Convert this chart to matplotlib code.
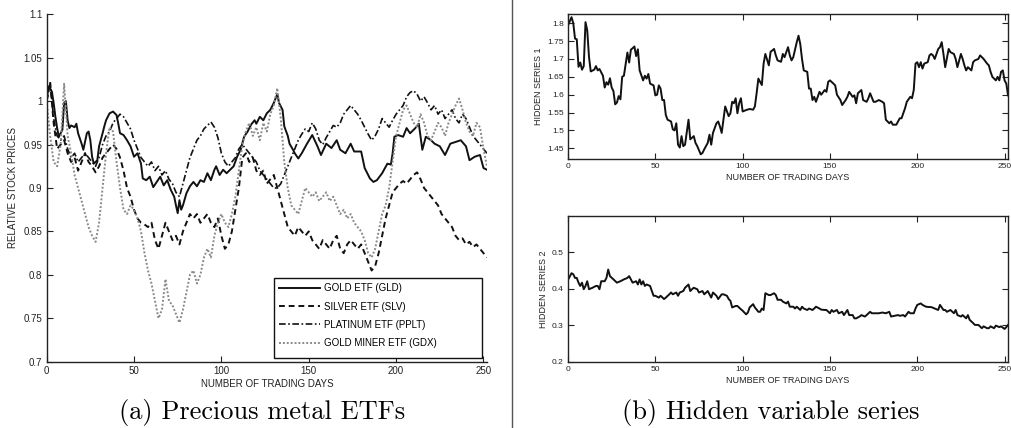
import numpy as np
import matplotlib
matplotlib.use("Agg")
import matplotlib.pyplot as plt
from matplotlib.lines import Line2D
from matplotlib.patches import Rectangle
from matplotlib.ticker import FuncFormatter

plt.rcParams['font.family'] = ['Liberation Sans', 'DejaVu Sans']

# ---------------- Precious metal ETFs (relative prices) ----------------
gld_days = [0, 1, 3, 4, 5, 6, 7, 9, 10, 11, 12, 13, 14, 16, 17, 18, 20, 21, 23, 24,
            25, 26, 27, 29, 30, 32, 33, 34, 36, 38, 40, 41, 42, 44, 46, 48, 50, 52, 54, 55,
            57, 59, 61, 63, 65, 67, 69, 71, 73, 74, 75, 76, 77, 78, 80, 82, 84, 86, 88, 90,
            92, 94, 96, 97, 99, 101, 103, 105, 107, 109, 111, 113, 115, 117, 119, 120, 122, 124, 126, 128,
            130, 132, 133, 135, 136, 138, 139, 141, 142, 144, 146, 149, 152, 155, 157, 160, 163, 166, 168, 171,
            174, 176, 180, 182, 185, 187, 189, 192, 195, 197, 198, 199, 201, 204, 206, 208, 211, 213, 215, 217,
            220, 222, 225, 228, 231, 234, 237, 240, 242, 245, 248, 250, 252]
gld_vals = [1.000, 1.017, 1.011, 0.998, 0.982, 0.969, 0.959, 0.967, 0.998, 1.000, 0.978, 0.969, 0.972, 0.970, 0.974, 0.963, 0.951, 0.944, 0.963, 0.965,
            0.955, 0.936, 0.928, 0.932, 0.948, 0.963, 0.971, 0.978, 0.986, 0.988, 0.984, 0.974, 0.963, 0.961, 0.955, 0.948, 0.936, 0.940, 0.928, 0.911,
            0.909, 0.913, 0.901, 0.907, 0.913, 0.903, 0.909, 0.898, 0.890, 0.880, 0.871, 0.886, 0.875, 0.880, 0.894, 0.902, 0.907, 0.902, 0.909, 0.907,
            0.917, 0.909, 0.921, 0.925, 0.915, 0.921, 0.917, 0.921, 0.925, 0.936, 0.944, 0.959, 0.965, 0.973, 0.978, 0.974, 0.982, 0.978, 0.986, 0.990,
            0.998, 1.008, 0.998, 0.990, 0.971, 0.960, 0.951, 0.944, 0.940, 0.934, 0.940, 0.951, 0.961, 0.948, 0.938, 0.951, 0.946, 0.955, 0.944, 0.940,
            0.951, 0.942, 0.942, 0.923, 0.911, 0.907, 0.909, 0.917, 0.928, 0.927, 0.940, 0.959, 0.961, 0.959, 0.969, 0.963, 0.969, 0.974, 0.944, 0.959,
            0.955, 0.951, 0.948, 0.938, 0.951, 0.953, 0.955, 0.948, 0.932, 0.936, 0.938, 0.923, 0.921]

etf_days = list(range(0, 253, 2))
slv_vals = [1.000, 1.022, 0.975, 0.945, 0.950, 0.955, 0.940, 0.930, 0.935, 0.920,
            0.930, 0.940, 0.930, 0.925, 0.918, 0.925, 0.935, 0.940, 0.945, 0.950,
            0.945, 0.935, 0.920, 0.900, 0.890, 0.875, 0.865, 0.860, 0.858, 0.855,
            0.860, 0.840, 0.830, 0.845, 0.860, 0.850, 0.840, 0.845, 0.835, 0.850,
            0.860, 0.870, 0.865, 0.870, 0.860, 0.865, 0.870, 0.860, 0.855, 0.865,
            0.845, 0.830, 0.835, 0.850, 0.875, 0.900, 0.935, 0.940, 0.930, 0.935,
            0.920, 0.915, 0.920, 0.905, 0.910, 0.915, 0.900, 0.885, 0.870, 0.855,
            0.850, 0.845, 0.855, 0.850, 0.845, 0.850, 0.840, 0.835, 0.830, 0.840,
            0.835, 0.830, 0.840, 0.845, 0.830, 0.825, 0.835, 0.840, 0.835, 0.830,
            0.835, 0.825, 0.815, 0.805, 0.810, 0.825, 0.845, 0.865, 0.880, 0.895,
            0.900, 0.905, 0.908, 0.905, 0.910, 0.915, 0.918, 0.910, 0.900, 0.895,
            0.890, 0.885, 0.880, 0.870, 0.865, 0.860, 0.855, 0.845, 0.840, 0.842,
            0.835, 0.838, 0.832, 0.835, 0.830, 0.825, 0.820]
pplt_vals = [1.000, 1.020, 0.980, 0.960, 0.955, 0.960, 0.945, 0.935, 0.940, 0.930,
             0.935, 0.940, 0.935, 0.930, 0.925, 0.935, 0.950, 0.960, 0.965, 0.975,
             0.980, 0.985, 0.982, 0.975, 0.968, 0.955, 0.945, 0.935, 0.930, 0.925,
             0.930, 0.920, 0.925, 0.915, 0.920, 0.910, 0.905, 0.895, 0.890, 0.905,
             0.920, 0.935, 0.945, 0.955, 0.960, 0.968, 0.972, 0.976, 0.970, 0.958,
             0.940, 0.930, 0.925, 0.930, 0.935, 0.945, 0.950, 0.945, 0.940, 0.935,
             0.930, 0.920, 0.915, 0.910, 0.905, 0.900, 0.900, 0.905, 0.915, 0.925,
             0.935, 0.945, 0.955, 0.962, 0.968, 0.965, 0.975, 0.968, 0.955, 0.950,
             0.958, 0.965, 0.972, 0.970, 0.975, 0.985, 0.990, 0.995, 0.990, 0.985,
             0.978, 0.970, 0.962, 0.955, 0.960, 0.968, 0.980, 0.975, 0.970, 0.978,
             0.985, 0.990, 0.995, 1.005, 1.010, 1.012, 1.008, 1.000, 1.005, 0.998,
             0.990, 0.995, 0.985, 0.990, 0.980, 0.985, 0.990, 0.980, 0.975, 0.985,
             0.980, 0.970, 0.960, 0.955, 0.950, 0.945, 0.940]
gdx_vals = [1.000, 0.960, 0.930, 0.925, 0.950, 1.020, 0.960, 0.940, 0.915, 0.900,
            0.885, 0.870, 0.855, 0.845, 0.838, 0.860, 0.900, 0.940, 0.970, 0.965,
            0.930, 0.900, 0.875, 0.870, 0.880, 0.875, 0.865, 0.850, 0.825, 0.805,
            0.790, 0.770, 0.750, 0.760, 0.795, 0.770, 0.765, 0.755, 0.745, 0.760,
            0.780, 0.800, 0.805, 0.790, 0.800, 0.820, 0.830, 0.820, 0.845, 0.860,
            0.870, 0.860, 0.855, 0.870, 0.890, 0.920, 0.950, 0.965, 0.975, 0.960,
            0.970, 0.955, 0.975, 0.965, 0.985, 0.995, 1.015, 0.980, 0.930, 0.900,
            0.880, 0.875, 0.870, 0.885, 0.900, 0.895, 0.890, 0.895, 0.885, 0.890,
            0.895, 0.885, 0.890, 0.880, 0.870, 0.875, 0.865, 0.870, 0.860, 0.855,
            0.850, 0.840, 0.825, 0.820, 0.830, 0.850, 0.870, 0.880, 0.900, 0.930,
            0.960, 0.975, 0.990, 0.995, 0.985, 0.975, 0.970, 0.985, 0.975, 0.960,
            0.955, 0.965, 0.975, 0.970, 0.960, 0.975, 0.985, 0.995, 1.003, 0.990,
            0.975, 0.965, 0.960, 0.975, 0.970, 0.945, 0.925]
etf_labels = ['GOLD ETF (GLD)', 'SILVER ETF (SLV)', 'PLATINUM ETF (PPLT)', 'GOLD MINER ETF (GDX)']

# ---------------- Hidden variable series ----------------
h1_days = [0, 2, 3, 4, 5, 6, 7, 8, 9, 10, 11, 12, 13, 15, 16, 17, 18, 20, 21, 22,
           23, 24, 25, 26, 27, 28, 29, 30, 31, 32, 34, 35, 36, 37, 38, 39, 40, 41, 43, 44,
           45, 46, 47, 49, 50, 51, 52, 53, 54, 55, 56, 57, 59, 60, 61, 62, 63, 64, 65, 66,
           67, 69, 70, 72, 73, 74, 76, 77, 78, 80, 81, 82, 83, 85, 86, 87, 88, 89, 90, 92,
           93, 94, 95, 96, 97, 98, 99, 100, 102, 104, 106, 107, 108, 109, 111, 112, 113, 115, 116, 117,
           118, 119, 120, 122, 123, 124, 126, 127, 128, 129, 131, 132, 133, 134, 135, 137, 138, 139, 140, 141,
           142, 143, 144, 145, 147, 148, 149, 150, 152, 153, 154, 156, 157, 159, 160, 161, 163, 164, 165, 166,
           168, 169, 171, 172, 173, 175, 176, 178, 180, 181, 182, 184, 185, 186, 188, 190, 191, 193, 194, 196,
           197, 198, 199, 200, 201, 202, 203, 204, 206, 207, 208, 209, 210, 212, 213, 214, 215, 216, 218, 219,
           221, 222, 223, 225, 226, 227, 228, 229, 231, 232, 233, 235, 236, 238, 240, 241, 242, 243, 245, 246,
           247, 248, 249, 250, 251, 252]
h1_vals = [1.794, 1.817, 1.800, 1.757, 1.755, 1.678, 1.690, 1.670, 1.680, 1.803, 1.780, 1.706, 1.665, 1.670, 1.680, 1.668, 1.672, 1.653, 1.620, 1.635,
           1.628, 1.646, 1.620, 1.610, 1.573, 1.578, 1.596, 1.587, 1.650, 1.653, 1.718, 1.690, 1.726, 1.730, 1.735, 1.708, 1.727, 1.668, 1.640, 1.653,
           1.645, 1.658, 1.631, 1.626, 1.598, 1.600, 1.626, 1.617, 1.585, 1.585, 1.543, 1.530, 1.525, 1.503, 1.500, 1.520, 1.460, 1.452, 1.484, 1.456,
           1.460, 1.530, 1.475, 1.484, 1.465, 1.456, 1.433, 1.437, 1.447, 1.465, 1.488, 1.460, 1.493, 1.520, 1.525, 1.511, 1.493, 1.530, 1.567, 1.540,
           1.548, 1.580, 1.576, 1.590, 1.548, 1.576, 1.590, 1.553, 1.557, 1.560, 1.558, 1.567, 1.604, 1.645, 1.627, 1.687, 1.714, 1.682, 1.720, 1.724,
           1.728, 1.710, 1.696, 1.692, 1.714, 1.705, 1.733, 1.710, 1.696, 1.705, 1.747, 1.765, 1.742, 1.700, 1.668, 1.664, 1.617, 1.617, 1.585, 1.594,
           1.580, 1.594, 1.608, 1.600, 1.613, 1.608, 1.636, 1.640, 1.631, 1.626, 1.600, 1.585, 1.571, 1.585, 1.594, 1.608, 1.594, 1.598, 1.576, 1.604,
           1.613, 1.585, 1.580, 1.590, 1.604, 1.580, 1.580, 1.585, 1.580, 1.576, 1.530, 1.520, 1.525, 1.516, 1.516, 1.534, 1.534, 1.562, 1.580, 1.594,
           1.590, 1.613, 1.687, 1.691, 1.677, 1.691, 1.673, 1.687, 1.691, 1.710, 1.714, 1.710, 1.700, 1.728, 1.733, 1.747, 1.714, 1.677, 1.728, 1.719,
           1.714, 1.700, 1.677, 1.714, 1.700, 1.682, 1.668, 1.677, 1.668, 1.691, 1.696, 1.700, 1.710, 1.700, 1.687, 1.682, 1.664, 1.650, 1.640, 1.650,
           1.640, 1.664, 1.668, 1.640, 1.631, 1.598]

h2_days = [0, 2, 3, 4, 5, 6, 7, 8, 9, 10, 11, 12, 14, 16, 17, 18, 19, 21, 22, 23,
           24, 26, 28, 30, 32, 34, 35, 36, 37, 39, 40, 41, 42, 43, 44, 45, 47, 48, 49, 50,
           52, 53, 55, 56, 58, 59, 60, 62, 63, 64, 66, 67, 69, 70, 71, 72, 74, 75, 77, 78,
           80, 81, 82, 83, 85, 86, 88, 89, 91, 92, 93, 94, 96, 97, 99, 100, 102, 103, 104, 106,
           107, 109, 110, 111, 112, 113, 115, 116, 118, 119, 120, 122, 123, 125, 126, 127, 129, 130, 131, 133,
           134, 135, 137, 138, 140, 141, 142, 144, 145, 147, 148, 150, 151, 152, 154, 155, 157, 158, 160, 161,
           163, 164, 165, 167, 168, 170, 171, 173, 174, 176, 178, 180, 182, 184, 185, 187, 189, 190, 192, 193,
           195, 196, 198, 199, 200, 202, 203, 205, 207, 208, 210, 212, 213, 215, 216, 217, 219, 221, 222, 223,
           225, 226, 228, 229, 230, 232, 233, 235, 237, 238, 240, 241, 242, 244, 245, 247, 248, 250, 251, 252]
h2_vals = [0.425, 0.443, 0.440, 0.430, 0.430, 0.417, 0.408, 0.417, 0.399, 0.408, 0.421, 0.399, 0.403, 0.408, 0.408, 0.399, 0.421, 0.421, 0.430, 0.453,
           0.435, 0.426, 0.417, 0.421, 0.426, 0.430, 0.435, 0.426, 0.417, 0.421, 0.412, 0.426, 0.412, 0.421, 0.408, 0.412, 0.408, 0.394, 0.381, 0.381,
           0.376, 0.381, 0.372, 0.376, 0.385, 0.390, 0.385, 0.390, 0.381, 0.390, 0.394, 0.403, 0.412, 0.394, 0.399, 0.403, 0.399, 0.390, 0.394, 0.385,
           0.394, 0.385, 0.376, 0.390, 0.381, 0.372, 0.385, 0.385, 0.381, 0.372, 0.367, 0.349, 0.353, 0.353, 0.344, 0.340, 0.330, 0.335, 0.349, 0.358,
           0.349, 0.337, 0.337, 0.346, 0.342, 0.388, 0.383, 0.383, 0.388, 0.383, 0.370, 0.370, 0.365, 0.360, 0.365, 0.351, 0.351, 0.346, 0.351, 0.342,
           0.351, 0.346, 0.342, 0.346, 0.342, 0.346, 0.351, 0.346, 0.343, 0.342, 0.342, 0.333, 0.342, 0.337, 0.342, 0.333, 0.337, 0.328, 0.342, 0.328,
           0.328, 0.319, 0.319, 0.324, 0.328, 0.324, 0.328, 0.337, 0.333, 0.333, 0.333, 0.335, 0.333, 0.337, 0.324, 0.326, 0.328, 0.326, 0.328, 0.324,
           0.337, 0.333, 0.333, 0.346, 0.356, 0.360, 0.356, 0.351, 0.350, 0.350, 0.346, 0.342, 0.356, 0.342, 0.342, 0.337, 0.342, 0.333, 0.342, 0.328,
           0.324, 0.328, 0.319, 0.328, 0.315, 0.306, 0.301, 0.301, 0.292, 0.297, 0.292, 0.292, 0.297, 0.292, 0.299, 0.295, 0.297, 0.290, 0.295, 0.301]

x_ticks = [0, 50, 100, 150, 200, 250]
x_label = 'NUMBER OF TRADING DAYS'

fmt = FuncFormatter(lambda v, p: f'{v:g}')


def style_axes(ax, labelsize, boxed):
    ax.tick_params(direction='in', length=4, width=0.8, labelsize=labelsize, pad=3,
                   top=boxed, right=boxed, colors='#222222')
    for side in ('top', 'right'):
        ax.spines[side].set_visible(boxed)
    for sp in ax.spines.values():
        sp.set_linewidth(1.0)
        sp.set_color('#222222')
    ax.xaxis.set_major_formatter(fmt)
    ax.yaxis.set_major_formatter(fmt)


fig = plt.figure(figsize=(10.12, 4.28), dpi=100)

# Left panel
ax = fig.add_axes([0.0461, 0.1549, 0.4351, 0.8117])
ax.plot(gld_days, gld_vals, color='#111111', lw=1.4, ls='-', label=etf_labels[0])
ax.plot(etf_days, slv_vals, color='#111111', lw=1.4, ls=(0, (3, 2)), label=etf_labels[1])
ax.plot(etf_days, pplt_vals, color='#111111', lw=1.2, ls=(0, (4, 1.5, 1, 1.5)), label=etf_labels[2])
ax.plot(etf_days, gdx_vals, color='#8a8a8a', lw=1.4, ls=(0, (1, 1)), label=etf_labels[3])
ax.set_xlim(0, 252)
ax.set_ylim(0.7, 1.1)
ax.set_xticks(x_ticks)
ax.set_yticks(np.arange(0.7, 1.1001, 0.05))
style_axes(ax, 7, False)
ax.set_xlabel(x_label, fontsize=7, labelpad=2, color='#222222')
ax.set_ylabel('RELATIVE STOCK PRICES', fontsize=7, labelpad=4, color='#222222')

# Legend: boxed frame with a wide right margin
legend_box = (0.516, 0.011, 0.473, 0.230)
ax.add_patch(Rectangle(legend_box[:2], legend_box[2], legend_box[3], transform=ax.transAxes,
                       facecolor='white', edgecolor='#111111', lw=1.0, zorder=4))
leg = ax.legend(loc='upper left', bbox_to_anchor=(legend_box[0], legend_box[1] + legend_box[3]),
                borderaxespad=0, borderpad=0.55, frameon=False,
                fontsize=7, handlelength=4.2, handletextpad=0.45, labelspacing=0.85)
leg.set_zorder(5)

# Right panels
ax1 = fig.add_axes([0.5613, 0.6285, 0.4348, 0.3381])
ax1.plot(h1_days, h1_vals, color='#111111', lw=1.4)
ax1.set_xlim(0, 252)
ax1.set_ylim(1.42, 1.825)
ax1.set_xticks(x_ticks)
ax1.set_yticks(np.arange(1.45, 1.8001, 0.05))
style_axes(ax1, 6, True)
ax1.set_xlabel(x_label, fontsize=6.5, labelpad=2, color='#222222')
ax1.set_ylabel('HIDDEN SERIES 1', fontsize=6.5, labelpad=3, color='#222222')

ax2 = fig.add_axes([0.5613, 0.1549, 0.4348, 0.3404])
ax2.plot(h2_days, h2_vals, color='#111111', lw=1.4)
ax2.set_xlim(0, 252)
ax2.set_ylim(0.2, 0.6)
ax2.set_xticks(x_ticks)
ax2.set_yticks([0.2, 0.3, 0.4, 0.5])
style_axes(ax2, 6, True)
ax2.set_xlabel(x_label, fontsize=6.5, labelpad=2, color='#222222')
ax2.set_ylabel('HIDDEN SERIES 2', fontsize=6.5, labelpad=3, color='#222222')

# Divider between the two sub-figures
fig.add_artist(Line2D([512 / 1012, 512 / 1012], [0, 1], transform=fig.transFigure,
                      color='#555555', lw=1.0))

# Sub-figure captions
fig.text(0.259, 0.037, '(a) Precious metal ETFs', family='cmr10', fontsize=19,
         ha='center', va='center')
fig.text(0.762, 0.037, '(b) Hidden variable series', family='cmr10', fontsize=19,
         ha='center', va='center')

fig.savefig('out.png', dpi=100)
